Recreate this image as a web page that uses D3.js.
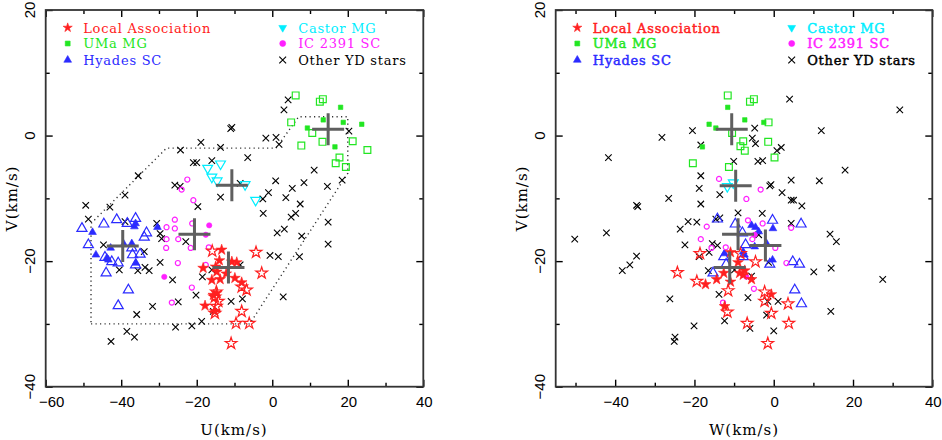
<!DOCTYPE html>
<html lang="en">
<head>
<meta charset="UTF-8">
<title>Young disk stars in the U-V and W-V planes</title>
<script src="https://d3js.org/d3.v7.min.js"></script>
<style>
  body { margin: 0; background: #fff; }
  svg { display: block; }
  .tick-label { font-family: "Liberation Sans", Arial, sans-serif; font-size: 15px; fill: #000; }
  .axis-title { font-family: "DejaVu Serif", serif; font-size: 15px; letter-spacing: 1px; fill: #000; }
  .legend text { font-family: "DejaVu Serif", serif; font-size: 13px; letter-spacing: 0.75px; }
  .axis line { stroke: #000; stroke-width: 1.4; }
</style>
</head>
<body>
<svg width="942" height="440"></svg>
<script>
// ---- left panel: U vs V (km/s) ----
const laFilledUV = [[-13.4,-18.2],[-14.0,-19.9],[-10.7,-20.1],[-18.3,-21.1],[-15.0,-20.9],[-14.7,-21.7],[-16.0,-23.0],[-13.8,-22.9],[-12.2,-22.0],[-9.9,-22.7],[-9.4,-20.2],[-8.1,-23.4],[-15.6,-25.4],[-14.7,-25.1],[-17.8,-27.1],[-15.2,-28.0]];
const laOpenUV = [[-15.9,-18.4],[-4.3,-18.6],[-2.8,-21.9],[-6.8,-24.6],[-8.1,-24.1],[-14.8,-24.9],[-15.2,-25.7],[-14.3,-26.4],[-14.8,-27.2],[-15.2,-28.3],[-8.1,-28.0],[-9.6,-29.9],[-6.1,-29.9],[-10.9,-33.1]];
const umaFilledUV = [[18.1,4.5],[13.5,2.5],[18.8,2.1],[9.3,1.2],[23.7,1.8],[16.6,-1.8]];
const umaOpenUV = [[6.2,6.4],[12.6,5.4],[13.4,5.8],[5.0,2.1],[10.6,0.4],[13.3,-1.0],[7.7,-1.6],[21.3,-0.9],[25.2,-2.3],[17.8,-3.5],[16.8,-4.4],[19.5,-5.0]];
const hyadesFilledUV = [[-47.6,-15.4],[-36.5,-14.5],[-36.2,-14.0],[-30.4,-14.6],[-46.7,-19.0],[-43.8,-19.5],[-42.8,-17.9],[-39.3,-17.3],[-37.2,-17.2],[-43.4,-19.8],[-36.1,-20.3]];
const hyadesOpenUV = [[-50.4,-14.8],[-44.6,-14.1],[-41.2,-13.4],[-36.2,-13.2],[-38.4,-14.0],[-33.3,-15.5],[-33.9,-16.2],[-48.7,-17.4],[-37.2,-17.9],[-35.0,-18.9],[-37.0,-19.0],[-44.3,-19.4],[-42.5,-20.1],[-40.8,-20.3],[-36.2,-20.6],[-44.0,-21.9],[-38.1,-24.6],[-40.8,-27.1]];
const castorOpenUV = [[-17.1,-5.2],[-13.7,-4.5],[-16.0,-6.6],[-14.6,-7.2],[-7.2,-7.8],[-4.4,-10.3]];
const icOpenUV = [[-22.5,-7.0],[-24.0,-8.6],[-20.9,-10.3],[-25.8,-13.4],[-28.0,-14.6],[-25.8,-14.8],[-21.2,-14.0],[-28.0,-16.5],[-24.9,-16.5],[-28.1,-17.9],[-21.6,-17.9],[-16.8,-17.8],[-25.0,-20.3],[-17.6,-20.6],[-21.3,-24.2],[-26.6,-26.6]];
const icFilledUV = [[-16.7,-14.3],[-17.6,-15.8],[-28.6,-22.5]];
const otherUV = [[-25.8,-7.9],[-24.4,-8.1],[-39.0,-9.5],[-13.7,-9.8],[-8.5,-7.6],[-1.0,-9.1],[-2.4,-12.4],[1.3,-15.5],[-49.4,-11.1],[-43.0,-11.4],[-48.7,-13.3],[-39.0,-13.7],[-30.6,-14.0],[-29.7,-15.6],[-29.3,-16.4],[-44.7,-17.4],[-33.9,-18.5],[-22.9,-16.9],[-29.7,-20.2],[-40.5,-21.4],[-35.6,-21.5],[-33.7,-21.0],[-32.6,-21.5],[-26.4,-23.0],[-18.5,-22.5],[-16.0,-21.4],[-8.5,-20.6],[-20.2,-25.4],[-24.9,-26.5],[-31.7,-27.2],[-35.9,-28.5],[-10.9,-26.4],[-7.9,-26.0],[-0.6,-19.1],[1.6,-19.3],[-25.6,-30.5],[-21.3,-30.3],[-18.7,-29.6],[-15.6,-28.0],[-38.5,-31.2],[-36.5,-32.1],[-42.7,-32.8],
  [4.2,5.7],[3.1,4.1],[-11.0,1.1],[-10.7,1.3],[-18.9,-1.1],[-24.3,-2.3],[-13.7,-1.9],[-1.7,-0.4],[1.0,-0.3],[1.8,-1.4],[20.3,0.7],[-6.5,-3.5],[-20.9,-4.3],[-20.0,-4.3],[-16.0,-4.0],[-35.5,-6.4],[-19.7,-11.3],[0.9,-7.2],[-2.5,-10.1],[5.3,-8.4],[8.4,-7.5],[3.6,-9.9],[7.4,-10.9],[6.2,-12.4],[5.0,-13.0],[14.6,-8.1],[11.1,-5.5],[18.5,-7.1],[14.8,-13.8],[3.2,-14.9],[7.8,-16.0],[14.8,-17.3],[7.2,-19.3],[2.9,-25.7]];
const meanUV = [[14.8,1.0],[-10.7,-7.9],[-20.6,-15.7],[-39.6,-17.6],[-11.6,-21.0]];
const boxUV = [[-48,-30],[-6,-30],[20,-6],[20,3],[7,3],[1,-2],[-28,-2],[-48,-14],[-48,-30]];

// ---- right panel: W vs V (km/s) ----
const laFilledWV = [[-10.9,-18.6],[-9.0,-20.2],[-12.6,-21.9],[-8.6,-21.9],[-7.7,-22.2],[-7.3,-21.5],[-14.4,-22.9],[-17.2,-23.7],[-10.9,-23.3],[-5.6,-22.9],[-12.4,-27.2],[-0.6,-25.3]];
const laOpenWV = [[-18.6,-18.8],[-24.3,-21.8],[-19.4,-23.2],[-4.6,-20.1],[-11.5,-24.7],[-11.7,-28.1],[-6.7,-29.9],[-8.4,-18.8],[-2.3,-24.9],[-2.3,-26.4],[3.6,-26.8],[-0.6,-28.3],[3.8,-29.9],[-1.5,-33.1]];
const umaFilledWV = [[-11.6,4.5],[-7.3,2.5],[-16.3,1.8],[-14.6,1.2],[-18.0,-1.8],[-2.5,2.1]];
const umaOpenWV = [[-11.6,6.4],[-6.0,5.4],[-5.0,5.8],[-10.5,0.4],[-7.7,-0.9],[-8.4,-1.7],[-7.3,-2.4],[-20.4,-4.4],[-11.3,-5.0],[-1.3,2.1],[-1.4,-1.0],[0.2,-3.5]];
const hyadesFilledWV = [[-5.6,-14.3],[-4.6,-14.6],[-4.8,-17.7],[-7.7,-18.5],[-12.4,-18.8],[-3.8,-15.3],[-0.2,-14.8],[-1.8,-17.2],[-7.4,-19.0],[-0.3,-19.8]];
const hyadesOpenWV = [[-14.2,-13.3],[-9.7,-14.1],[-7.9,-15.5],[-7.7,-19.3],[-12.6,-19.3],[-12.0,-20.5],[-15.3,-21.9],[-7.1,-17.4],[-0.3,-13.5],[6.9,-14.1],[-1.0,-20.5],[4.8,-20.1],[6.5,-20.5],[5.3,-24.6],[7.0,-26.8]];
const castorOpenWV = [[-10.2,-7.5],[-11.7,-8.1]];
const icOpenWV = [[-13.8,-6.9],[-6.9,-10.1],[-3.3,-8.6],[-16.9,-14.5],[-18.4,-16.5],[-6.5,-13.5],[-5.4,-16.5],[-12.1,-17.8],[-15.7,-17.9],[-5.0,-24.4],[-12.8,-26.6],[-2.8,-14.0],[4.4,-14.7],[0.4,-17.9],[3.2,-20.3]];
const icFilledWV = [[-6.9,-22.5],[-4.8,-15.8]];
const otherWV = [[-20.5,0.8],[-28.2,-0.3],[-18.4,-1.5],[-41.7,-3.5],[-4.8,1.2],[-5.4,-0.4],[-4.6,-1.3],[-10.1,-4.1],[-4.0,-4.1],[-18.4,-6.4],[-18.8,-8.4],[-13.6,-9.4],[-26.5,-10.0],[-34.6,-11.1],[-34.3,-11.3],[-18.4,-10.9],[-9.0,-12.3],[-14.6,-13.3],[-13.6,-13.1],[-21.6,-13.7],[-19.4,-13.8],[-23.6,-14.9],[-50.2,-16.5],[-42.2,-15.5],[-22.4,-17.4],[-15.5,-17.2],[-14.2,-17.5],[-18.8,-19.3],[-16.3,-18.6],[-34.6,-19.2],[-36.3,-20.6],[-38.2,-21.5],[-16.5,-21.5],[-9.9,-21.4],[-5.6,-22.4],[-13.8,-25.3],[-6.5,-25.8],[-26.2,-26.0],[-12.4,-29.5],[-20.1,-30.3],[-6.0,-30.7],[-24.9,-32.1],[-25.1,-32.8],
  [4.0,5.8],[31.8,4.1],[12.0,0.8],[0.8,-2.4],[1.9,-1.9],[-2.8,-4.0],[18.0,-5.5],[4.4,-7.1],[11.5,-7.2],[-1.0,-8.0],[-0.7,-7.8],[2.1,-9.1],[4.4,-10.3],[5.0,-10.3],[7.1,-11.2],[-2.9,-12.4],[4.4,-14.0],[-3.8,-15.8],[14.2,-15.7],[15.8,-16.9],[-1.3,-20.2],[10.1,-21.7],[14.5,-21.1],[27.5,-22.9],[-1.5,-26.4],[1.1,-26.4],[-1.8,-28.6],[14.4,-28.0],[0.0,-31.1]];
const meanWV = [[-10.6,1.0],[-9.6,-8.0],[-9.0,-15.7],[-2.1,-17.5],[-11.1,-21.0]];

// ---- axes / legend ----
const vMajor = [20, 0, -20, -40];
const vMinor = [10, -10, -30];
const uMajor = [-60, -40, -20, 0, 20, 40];
const wMajor = [-40, -20, 0, 20, 40];
const xMinor = [-50, -30, -10, 10, 30];
const legendCol1 = ["Local Association", "UMa MG", "Hyades SC"];
const legendCol2 = ["Castor MG", "IC 2391 SC", "Other YD stars"];

const svg = d3.select("svg");
const y = d3.scaleLinear().domain([-40, 20]).range([386.7, 10]);
const xU = d3.scaleLinear().domain([-60, 40]).range([45.7, 423.3]);
const xW = d3.scaleLinear().domain([-55, 40]).range([555.7, 932.3]);

const symbolX = {
  draw(ctx, size) {
    const s = Math.sqrt(size) / 2;
    ctx.moveTo(-s, -s); ctx.lineTo(s, s);
    ctx.moveTo(-s, s); ctx.lineTo(s, -s);
  }
};

const styles = {
  la:     { color: "#ff2020", type: d3.symbolStar,     open: 42, fill: 36, legend: 26, rot: 0 },
  uma:    { color: "#22e622", type: d3.symbolSquare,   open: 46, fill: 20, legend: 24, rot: 0 },
  hyades: { color: "#2b2bff", type: d3.symbolTriangle, open: 44, fill: 26, legend: 26, rot: 0 },
  castor: { color: "#00eeff", type: d3.symbolTriangle, open: 42, fill: 26, legend: 26, rot: 180 },
  ic:     { color: "#ff20ff", type: d3.symbolCircle,   open: 20, fill: 22, legend: 28, rot: 0 },
  other:  { color: "#000",    type: symbolX,           open: 42, fill: 42, legend: 46, rot: 0 }
};
const legendKeys1 = ["la", "uma", "hyades"];
const legendKeys2 = ["castor", "ic", "other"];

function marker(sel, key, size, filled) {
  const st = styles[key];
  const isLine = key === "other";
  sel.attr("d", d3.symbol(st.type, size)())
    .attr("fill", filled && !isLine ? st.color : "none")
    .attr("stroke", st.color)
    .attr("stroke-width", isLine ? 1.1 : (filled ? 0.6 : 1.2));
}

function drawPanel(x, xMajor, series, means, box, legendX, titleX, opts) {
  const g = svg.append("g");
  const [x0, x1] = x.range();
  const [y0, y1] = y.range();

  // ticks on all four sides, pointing inward
  const axes = [
    [d3.axisBottom(x).tickValues(xMajor).tickSize(-7), `translate(0,${y0})`],
    [d3.axisBottom(x).tickValues(xMinor).tickSize(-4), `translate(0,${y0})`],
    [d3.axisTop(x).tickValues(xMajor).tickSize(-7), `translate(0,${y1})`],
    [d3.axisTop(x).tickValues(xMinor).tickSize(-4), `translate(0,${y1})`],
    [d3.axisLeft(y).tickValues(vMajor).tickSize(-7), `translate(${x0},0)`],
    [d3.axisLeft(y).tickValues(vMinor).tickSize(-4), `translate(${x0},0)`],
    [d3.axisRight(y).tickValues(vMajor).tickSize(-7), `translate(${x1},0)`],
    [d3.axisRight(y).tickValues(vMinor).tickSize(-4), `translate(${x1},0)`]
  ];
  axes.forEach(([ax, tr]) => {
    const a = g.append("g").attr("class", "axis").attr("transform", tr)
      .call(ax.tickFormat("").tickSizeOuter(0));
    a.select(".domain").remove();
    a.selectAll("text").remove();
  });

  const fmt = d3.format("d");
  g.selectAll(".xlab").data(xMajor).join("text")
    .attr("class", "tick-label")
    .attr("x", (d, i) => x(d) + (opts.shiftFirst && i === 0 ? 6 : 1))
    .attr("y", y0 + 20.5)
    .attr("text-anchor", "middle")
    .text(fmt);

  g.selectAll(".ylab").data(vMajor).join("text")
    .attr("class", "tick-label")
    .attr("transform", d => `translate(${x0 - 10.5},${y(d)}) rotate(-90)`)
    .attr("text-anchor", "middle")
    .text(fmt);

  g.append("text").attr("class", "axis-title")
    .attr("x", titleX).attr("y", 435).attr("text-anchor", "middle")
    .text(opts.xTitle);
  g.append("text").attr("class", "axis-title")
    .attr("transform", `translate(${x0 - 29},${(y0 + y1) / 2}) rotate(-90)`)
    .attr("text-anchor", "middle")
    .text("V(km/s)");

  if (box) {
    g.append("path")
      .datum(box)
      .attr("d", d3.line().x(d => x(d[0])).y(d => y(d[1])))
      .attr("fill", "none")
      .attr("stroke", "#333")
      .attr("stroke-width", 1.4)
      .attr("stroke-dasharray", "1.2,3.3");
  }

  // data points
  series.forEach(([key, data, filled]) => {
    const st = styles[key];
    g.append("g").selectAll("path").data(data).join("path")
      .call(marker, key, filled ? st.fill : st.open, filled)
      .attr("transform", d => `translate(${x(d[0])},${y(d[1])}) rotate(${st.rot})`);
  });

  // group means
  const arm = 16;
  g.append("g").selectAll("path").data(means).join("path")
    .attr("d", d => {
      const cx = x(d[0]), cy = y(d[1]);
      return `M${cx - arm},${cy}H${cx + arm}M${cx},${cy - arm}V${cy + arm}`;
    })
    .attr("stroke", "#5f5f5f")
    .attr("stroke-width", 3)
    .attr("fill", "none");

  // frame
  g.append("rect")
    .attr("x", x0).attr("y", y1)
    .attr("width", x1 - x0).attr("height", y0 - y1)
    .attr("fill", "none").attr("stroke", "#333").attr("stroke-width", 1.8);

  // legend
  const rows = [27.7, 43.5, 60];
  const lg = g.append("g").attr("class", "legend");
  [[legendKeys1, legendCol1, legendX[0]], [legendKeys2, legendCol2, legendX[1]]].forEach(([keys, labels, lx]) => {
    keys.forEach((k, i) => {
      const st = styles[k];
      lg.append("path")
        .call(marker, k, st.legend, true)
        .attr("transform", `translate(${lx},${rows[i]}) rotate(${st.rot})`);
      lg.append("text")
        .attr("x", lx + 15.5).attr("y", rows[i] + 4.8)
        .attr("fill", st.color)
        .attr("stroke", opts.boldLegend ? st.color : "none")
        .attr("stroke-width", 0.45)
        .text(labels[i]);
    });
  });
}

drawPanel(xU, uMajor, [
  ["other", otherUV, false],
  ["hyades", hyadesOpenUV, false], ["hyades", hyadesFilledUV, true],
  ["ic", icOpenUV, false], ["ic", icFilledUV, true],
  ["castor", castorOpenUV, false],
  ["uma", umaOpenUV, false], ["uma", umaFilledUV, true],
  ["la", laOpenUV, false], ["la", laFilledUV, true]
], meanUV, boxUV, [67.7, 282.7], 234, { xTitle: "U(km/s)", shiftFirst: true, boldLegend: false });

drawPanel(xW, wMajor, [
  ["other", otherWV, false],
  ["hyades", hyadesOpenWV, false], ["hyades", hyadesFilledWV, true],
  ["ic", icOpenWV, false], ["ic", icFilledWV, true],
  ["castor", castorOpenWV, false],
  ["uma", umaOpenWV, false], ["uma", umaFilledWV, true],
  ["la", laOpenWV, false], ["la", laFilledWV, true]
], meanWV, null, [577.3, 791.7], 744, { xTitle: "W(km/s)", shiftFirst: false, boldLegend: true });
</script>
</body>
</html>
